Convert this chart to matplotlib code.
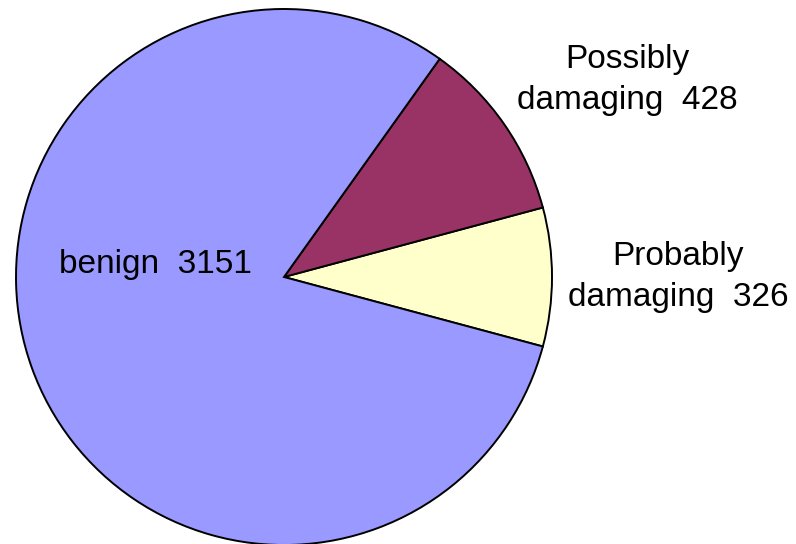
import matplotlib
matplotlib.use("Agg")
import matplotlib.pyplot as plt

# Predicted effect of variants (counts)
categories = ["Probably\ndamaging", "Possibly\ndamaging", "benign"]
counts = [326, 428, 3151]
colors = ["#FFFFCC", "#993366", "#9999FF"]

W, H = 796, 544
fig = plt.figure(figsize=(W / 100, H / 100), dpi=100)
ax = fig.add_axes([0, 0, 1, 1])

cx, cy, r = 284, H - 277, 268
total = sum(counts)
start = -180.0 * counts[0] / total

ax.pie(counts, colors=colors, startangle=start, counterclock=True,
       center=(cx, cy), radius=r, frame=True,
       wedgeprops=dict(edgecolor="black", linewidth=1.4))
ax.set_xlim(0, W)
ax.set_ylim(0, H)
ax.set_aspect("equal")
ax.axis("off")

font = dict(family=["Liberation Sans", "DejaVu Sans"], fontsize=24, color="black")
label_pos = [(678, H - 277), (627, H - 80), (155, H - 264)]
for name, val, (x, y) in zip(categories, counts, label_pos):
    ax.text(x, y, f"{name}  {val}", ha="center", va="center",
            multialignment="center", linespacing=1.42, **font)

fig.savefig("out.png", dpi=100)
